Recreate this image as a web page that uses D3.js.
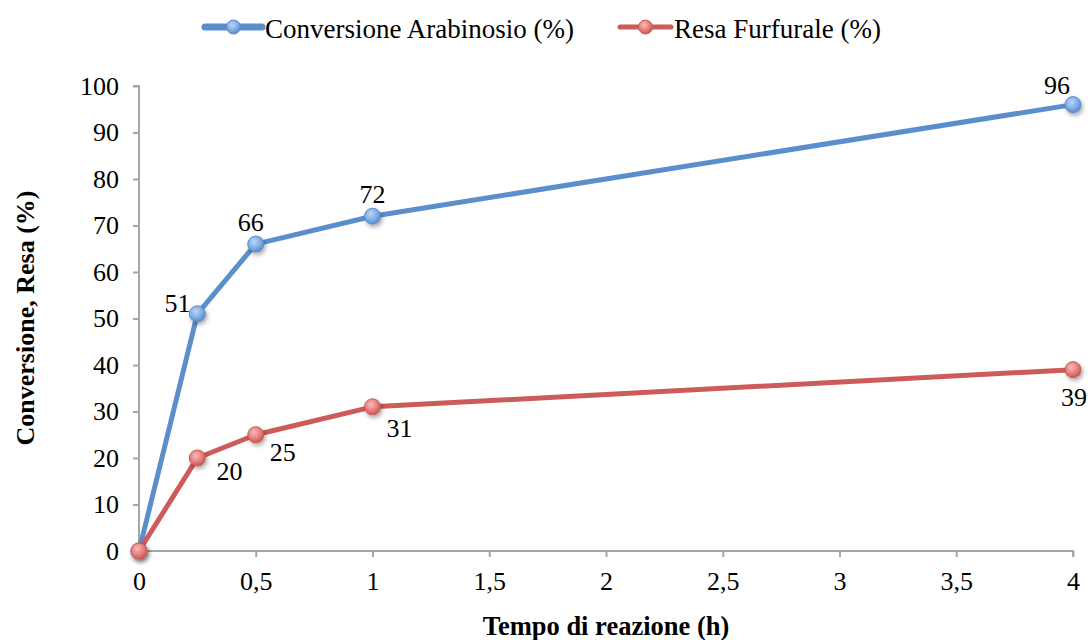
<!DOCTYPE html>
<html>
<head>
<meta charset="utf-8">
<script src="https://cdn.jsdelivr.net/npm/d3@7"></script>
<style>
  html, body { margin: 0; padding: 0; background: #fff; }
  svg { display: block; font-family: "Liberation Serif", "Times New Roman", serif; }
</style>
</head>
<body>
<svg id="chart" width="1088" height="640"></svg>
<script>
// Reaction time (h)
const times = [0, 0.25, 0.5, 1, 4];
// Arabinose conversion (%)
const conversione = [0, 51, 66, 72, 96];
// Furfural yield (%)
const resa = [0, 20, 25, 31, 39];
const xTicks = [0, 0.5, 1, 1.5, 2, 2.5, 3, 3.5, 4];
const yTicks = [0, 10, 20, 30, 40, 50, 60, 70, 80, 90, 100];
const seriesNames = ["Conversione Arabinosio (%)", "Resa Furfurale (%)"];

const FONT = "'Liberation Serif', 'Times New Roman', serif";
const FS = 26;

const svg = d3.select("#chart");
const m = { left: 139, right: 1073, top: 86, bottom: 551 };

const x = d3.scaleLinear().domain([0, 4]).range([m.left, m.right]);
const y = d3.scaleLinear().domain([0, 100]).range([m.bottom, m.top]);

const defs = svg.append("defs");
function markerGrad(id, light, mid, dark) {
  const g = defs.append("radialGradient").attr("id", id)
    .attr("cx", "40%").attr("cy", "35%").attr("r", "65%");
  g.append("stop").attr("offset", "0%").attr("stop-color", light);
  g.append("stop").attr("offset", "60%").attr("stop-color", mid);
  g.append("stop").attr("offset", "100%").attr("stop-color", dark);
}
markerGrad("gBlue", "#bcd6f5", "#7fade6", "#5a8ccc");
markerGrad("gRed", "#f7bcbc", "#e67e7c", "#c95956");
const shadow = defs.append("filter").attr("id", "shadow")
  .attr("x", "-50%").attr("y", "-50%").attr("width", "200%").attr("height", "200%");
shadow.append("feDropShadow").attr("dx", 1.5).attr("dy", 2.5)
  .attr("stdDeviation", 2).attr("flood-color", "#000").attr("flood-opacity", 0.35);

const axisColor = "#a6a6a6";

// Y axis
const yAxis = svg.append("g").attr("transform", `translate(${m.left},0)`)
  .call(d3.axisLeft(y).tickValues(yTicks).tickSize(6).tickPadding(14).tickFormat(d3.format("d")));
// X axis
const fmt = d => String(d).replace(".", ",");
const xAxis = svg.append("g").attr("transform", `translate(0,${m.bottom})`)
  .call(d3.axisBottom(x).tickValues(xTicks).tickSize(6).tickPadding(15).tickFormat(fmt));

[yAxis, xAxis].forEach(a => {
  a.attr("font-family", FONT).attr("font-size", FS);
  a.select(".domain").attr("stroke", axisColor).attr("stroke-width", 2);
  a.selectAll(".tick line").attr("stroke", axisColor).attr("stroke-width", 2);
  a.selectAll("text").attr("fill", "#000");
});
yAxis.select(".domain").attr("d", `M-6,${m.top}H0V${m.bottom}`);
xAxis.select(".domain").attr("d", `M${m.left},6V0H${m.right}V6`);

// Axis titles
svg.append("text").attr("x", 606).attr("y", 635)
  .attr("text-anchor", "middle").attr("font-weight", "bold").attr("font-size", 26.5)
  .text("Tempo di reazione (h)");
svg.append("text").attr("transform", `translate(25,318) rotate(-90)`)
  .attr("text-anchor", "middle").attr("dy", "0.35em").attr("font-weight", "bold").attr("font-size", FS)
  .text("Conversione, Resa (%)");

const line = d3.line().x(d => x(d[0])).y(d => y(d[1]));
const series = [
  { vals: conversione, color: "#5b8fcc", grad: "url(#gBlue)", edge: "#5a8ccc",
    labelPos: [[0, 0], [-20, -11], [-5, -22], [0, -22], [-16, -20]] },
  { vals: resa, color: "#cd5b59", grad: "url(#gRed)", edge: "#c95956",
    labelPos: [[0, 0], [32, 13], [27, 17], [27, 21], [1, 27]] }
];

series.forEach(s => {
  const pts = times.map((t, i) => [t, s.vals[i]]);
  svg.append("path").datum(pts).attr("d", line).attr("fill", "none")
    .attr("stroke", s.color).attr("stroke-width", 5).attr("stroke-linejoin", "round");
});
series.forEach(s => {
  const pts = times.map((t, i) => [t, s.vals[i]]);
  svg.append("g").selectAll("circle").data(pts).join("circle")
    .attr("cx", d => x(d[0])).attr("cy", d => y(d[1])).attr("r", 8)
    .attr("fill", s.grad).attr("stroke", s.edge).attr("stroke-width", 1)
    .attr("filter", "url(#shadow)");
});
// Data labels (skip the zero start point)
series.forEach(s => {
  svg.append("g").selectAll("text").data(times.map((t, i) => [t, s.vals[i], i]).filter(d => d[2] > 0))
    .join("text")
    .attr("x", d => x(d[0]) + s.labelPos[d[2]][0])
    .attr("y", d => y(d[1]) + s.labelPos[d[2]][1])
    .attr("text-anchor", "middle").attr("dy", "0.35em").attr("font-size", FS)
    .text(d => d[1]);
});

// Legend
const legend = [
  { name: seriesNames[0], color: "#5b8fcc", grad: "url(#gBlue)", edge: "#5a8ccc", x0: 205, x1: 262, w: 7 },
  { name: seriesNames[1], color: "#cd5b59", grad: "url(#gRed)", edge: "#c95956", x0: 620, x1: 671, w: 5 }
];
const lg = svg.append("g");
legend.forEach(l => {
  const ly = 27;
  lg.append("line").attr("x1", l.x0).attr("x2", l.x1).attr("y1", ly).attr("y2", ly)
    .attr("stroke", l.color).attr("stroke-width", l.w).attr("stroke-linecap", "round");
  lg.append("circle").attr("cx", (l.x0 + l.x1) / 2).attr("cy", ly).attr("r", 7)
    .attr("fill", l.grad).attr("stroke", l.edge).attr("stroke-width", 1);
  lg.append("text").attr("x", l.x1 + 3).attr("y", ly + 2).attr("dy", "0.35em")
    .attr("font-size", 27).text(l.name);
});
</script>
</body>
</html>
